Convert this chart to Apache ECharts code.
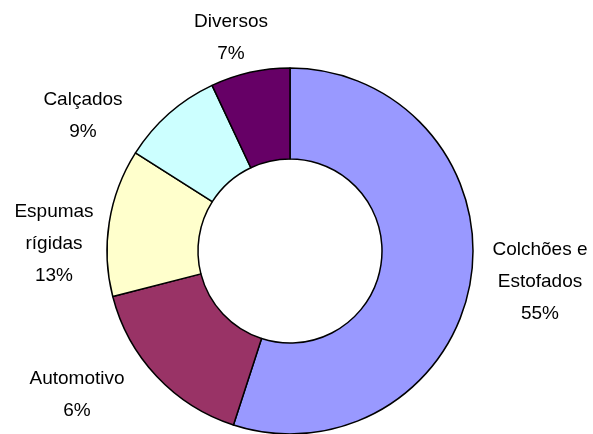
<!DOCTYPE html>
<html>
<head>
<meta charset="utf-8">
<script src="https://cdn.jsdelivr.net/npm/echarts@6/dist/echarts.min.js"></script>
<style>
  html, body { margin: 0; padding: 0; background: #fff; }
  #chart { width: 593px; height: 434px; }
</style>
</head>
<body>
<div id="chart"></div>
<script>
// fatias no sentido horário, a partir do topo
var categorias = ['Colchões e\nEstofados', 'Automotivo', 'Espumas\nrígidas', 'Calçados', 'Diversos'];
var valores = [55, 16, 13, 9, 7];
var rotulos = ['55%', '6%', '13%', '9%', '7%']; // como aparecem no gráfico
var cores = ['#9999FF', '#993366', '#FFFFCC', '#CCFFFF', '#660066'];

// onde cada rótulo fica (centro do bloco de texto)
var posRotulos = [[540, 282], [77, 395], [54, 244], [83, 116], [231, 38]];

var myChart = echarts.init(document.getElementById('chart'));
var option = {
    animation: false,
    series: [{
        type: 'pie',
        center: [290, 251],
        radius: [92, 183],
        startAngle: 90,
        clockwise: true,
        silent: true,
        itemStyle: {
            borderColor: '#000',
            borderWidth: 1.5
        },
        label: {
            show: true,
            position: 'outside',
            color: '#000',
            fontFamily: 'Liberation Sans, Arial, sans-serif',
            fontSize: 19,
            lineHeight: 32,
            align: 'center',
            overflow: 'none',
            width: 200,
            formatter: function (p) {
                return p.name + '\n' + rotulos[p.dataIndex];
            }
        },
        labelLine: { show: false },
        labelLayout: function (p) {
            var pos = posRotulos[p.dataIndex];
            return {
                x: pos[0],
                y: pos[1],
                align: 'center',
                verticalAlign: 'middle'
            };
        },
        data: categorias.map(function (c, i) {
            return { name: c, value: valores[i], itemStyle: { color: cores[i] } };
        })
    }]
};
myChart.setOption(option);
</script>
</body>
</html>
